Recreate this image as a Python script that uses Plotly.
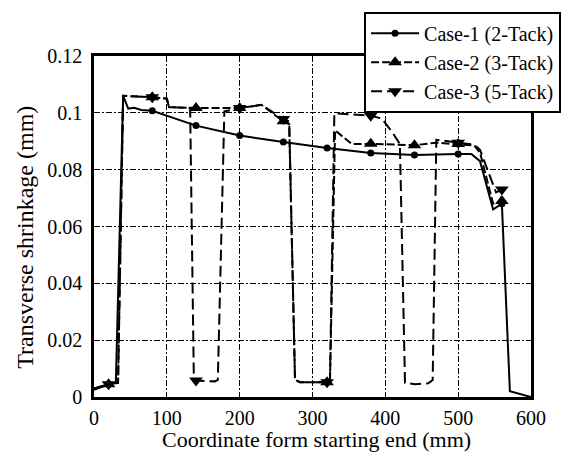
import plotly.graph_objects as go

# ---------------- data ----------------
series_names = ["Case-1 (2-Tack)", "Case-2 (3-Tack)", "Case-3 (5-Tack)"]

marker_x = [20, 80, 140, 200, 260, 320, 380, 440, 500, 560]

case1_x = [0, 20, 30, 40, 47, 55, 65, 80, 140, 200, 260, 320, 380, 440, 500, 518, 530, 548, 560, 565, 571, 600]
case1_y = [0.0025, 0.0045, 0.005, 0.106, 0.1015, 0.1018, 0.101, 0.1007, 0.0955, 0.092, 0.0897, 0.0876,
           0.0859, 0.0852, 0.0855, 0.0855, 0.083, 0.066, 0.068, 0.035, 0.002, 0.0]

case2_x = [0, 20, 33, 40, 80, 100, 103, 140, 200, 230, 260, 268, 276, 283, 320, 324, 331, 354, 380,
           440, 470, 500, 522, 530, 548, 560]
case2_y = [0.003, 0.0045, 0.005, 0.106, 0.1055, 0.105, 0.102, 0.1017, 0.1017, 0.1028, 0.097, 0.096,
           0.006, 0.0052, 0.0052, 0.006, 0.0938, 0.089, 0.0891, 0.0886, 0.0895, 0.089, 0.0885, 0.086,
           0.068, 0.069]

case3_x = [0, 20, 33, 40, 80, 100, 103, 132, 137, 140, 166, 170, 179, 200, 230, 260, 268, 276, 283,
           320, 324, 330, 380, 395, 410, 420, 427, 441, 459, 465, 470, 500, 522, 530, 552, 560]
case3_y = [0.003, 0.0045, 0.005, 0.106, 0.1055, 0.105, 0.102, 0.1017, 0.008, 0.0058, 0.0055, 0.006,
           0.1005, 0.1017, 0.1028, 0.0978, 0.097, 0.006, 0.0052, 0.0052, 0.006, 0.0998, 0.099, 0.098,
           0.093, 0.089, 0.005, 0.0045, 0.0048, 0.006, 0.0905, 0.0895, 0.0888, 0.087, 0.072, 0.073]

x_ticks = [0, 100, 200, 300, 400, 500, 600]
x_ticklabels = ["0", "100", "200", "300", "400", "500", "600"]
y_ticks = [0, 0.02, 0.04, 0.06, 0.08, 0.1, 0.12]
y_ticklabels = ["0", "0.02", "0.04", "0.06", "0.08", "0.1", "0.12"]

x_title = "Coordinate form starting end (mm)"
y_title = "Transverse shrinkage (mm)"

# ---------------- style ----------------
FONT = "'Liberation Serif', Tinos, 'Times New Roman', serif"
styles = [
    dict(dash="solid", symbol="circle", msize=7),
    dict(dash="8px,3px", symbol="triangle-up", msize=12),
    dict(dash="11px,5px", symbol="triangle-down", msize=12),
]
data = [(case1_x, case1_y), (case2_x, case2_y), (case3_x, case3_y)]

fig = go.Figure()
for name, (xs, ys), st in zip(series_names, data, styles):
    sizes = [st["msize"] if x in marker_x else 0 for x in xs]
    fig.add_trace(go.Scatter(
        x=xs, y=ys, mode="lines+markers", name=name, showlegend=False,
        line=dict(color="black", width=2, dash=st["dash"]),
        marker=dict(symbol=st["symbol"], size=sizes, color="black", opacity=1,
                    line=dict(width=0)),
    ))
for name, st in zip(series_names, styles):
    fig.add_trace(go.Scatter(
        x=[None], y=[None], mode="lines+markers", name=name,
        line=dict(color="black", width=2, dash=st["dash"]),
        marker=dict(symbol=st["symbol"], size=st["msize"], color="black", opacity=1),
    ))

axis_common = dict(
    showline=True, linecolor="black", linewidth=2.5, mirror=True, automargin=False,
    showgrid=True, gridcolor="black", gridwidth=1.3, griddash="6px,2px,2px,2px",
    zeroline=False, ticks="", tickfont=dict(family=FONT, size=20, color="black"),
)

fig.update_layout(
    width=574, height=454,
    margin=dict(l=94, r=43, t=52, b=57),
    paper_bgcolor="white", plot_bgcolor="white",
    font=dict(family=FONT, color="black"),
    xaxis=dict(range=[0, 600], tickvals=x_ticks, ticktext=x_ticklabels, ticklabelstandoff=1,
               **axis_common),
    yaxis=dict(range=[0, 0.12], tickvals=y_ticks, ticktext=y_ticklabels, ticklabelstandoff=5,
               **axis_common),
    legend=dict(x=0.618, y=1.13, xanchor="left", yanchor="top",
                bgcolor="white", bordercolor="black", borderwidth=2,
                font=dict(family=FONT, size=20, color="black"),
                itemwidth=48, tracegroupgap=0),
    annotations=[
        dict(text=x_title, xref="paper", yref="paper", x=0.509, y=0, xanchor="center",
             yanchor="middle", yshift=-42, showarrow=False,
             font=dict(family=FONT, size=22, color="black")),
        dict(text=y_title, xref="paper", yref="paper", x=0, y=0.467, xanchor="center",
             yanchor="middle", xshift=-69, textangle=-90, showarrow=False,
             font=dict(family=FONT, size=24, color="black")),
    ],
)

fig.write_html("out.html")
